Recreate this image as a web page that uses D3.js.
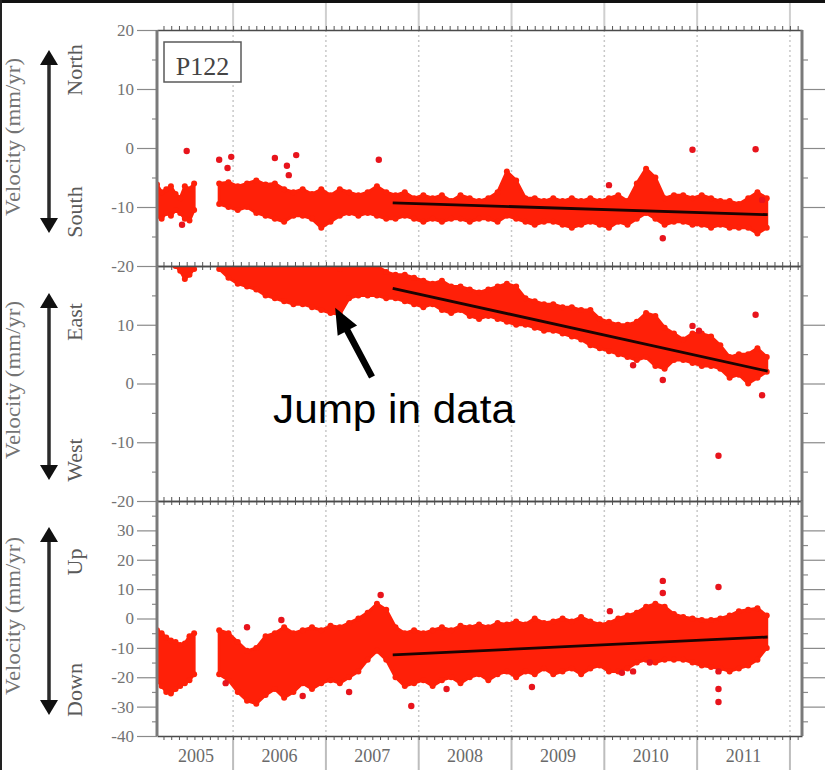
<!DOCTYPE html>
<html>
<head>
<meta charset="utf-8">
<script src="https://cdn.jsdelivr.net/npm/d3@7"></script>
<style>
  html, body { margin: 0; padding: 0; background: #fff; }
  svg { display: block; }
</style>
</head>
<body>
<svg id="chart" width="825" height="770"></svg>
<script>
// ---- Station P122 velocity time series (mm/yr), decimal years ----
// First occupation segment (weekly samples of the scatter envelope)
const years1 = [2005.18, 2005.23, 2005.28, 2005.33, 2005.38, 2005.43, 2005.48, 2005.53, 2005.58];
// Continuous record (sampled every 0.1 yr)
const years2 = [2005.85, 2005.95, 2006.05, 2006.15, 2006.25, 2006.35, 2006.45, 2006.55, 2006.65, 2006.75,
  2006.85, 2006.95, 2007.05, 2007.15, 2007.25, 2007.35, 2007.45, 2007.55, 2007.65, 2007.75,
  2007.85, 2007.95, 2008.05, 2008.15, 2008.25, 2008.35, 2008.45, 2008.55, 2008.65, 2008.75,
  2008.85, 2008.95, 2009.05, 2009.15, 2009.25, 2009.35, 2009.45, 2009.55, 2009.65, 2009.75,
  2009.85, 2009.95, 2010.05, 2010.15, 2010.25, 2010.35, 2010.45, 2010.55, 2010.65, 2010.75,
  2010.85, 2010.95, 2011.05, 2011.15, 2011.25, 2011.35, 2011.45, 2011.55, 2011.65, 2011.75];

// North component: upper / lower edge of the daily scatter
const northHi1 = [-6.2, -7.5, -7, -6.5, -7.8, -8.5, -6.5, -7, -6];
const northLo1 = [-11.5, -12, -11, -11.5, -10.5, -11, -12, -12.3, -10.5];
const northHi2 = [-6.0, -5.8, -6.5, -6.0, -5.5, -6.2, -6.0, -7.0, -7.5, -7.0,
  -7.8, -7.0, -8.0, -7.0, -7.5, -8.0, -7.5, -6.5, -7.5, -8.0,
  -7.5, -8.5, -8.0, -8.5, -8.0, -9.0, -8.0, -8.5, -9.0, -8.5,
  -7.5, -4.0, -5.5, -8.5, -8.5, -9.0, -8.5, -9.0, -8.5, -9.0,
  -8.5, -9.0, -8.5, -8.0, -9.0, -6.0, -3.5, -5.0, -8.5, -8.0,
  -8.0, -8.5, -8.0, -8.5, -9.0, -9.0, -9.5, -8.5, -7.5, -8.5];
const northLo2 = [-9.5, -10.0, -10.5, -10.0, -11.0, -11.5, -12.0, -12.5, -11.5, -11.5,
  -12.0, -13.5, -12.5, -11.5, -11.0, -11.5, -11.0, -11.5, -12.0, -12.0,
  -11.5, -12.0, -12.5, -12.0, -12.5, -12.0, -12.0, -12.5, -12.0, -12.0,
  -12.5, -11.5, -12.0, -12.5, -13.0, -12.5, -12.5, -13.0, -13.5, -13.0,
  -12.5, -13.0, -13.5, -12.5, -13.0, -12.0, -11.0, -12.0, -13.0, -12.5,
  -12.5, -13.0, -13.0, -13.5, -13.0, -13.5, -13.5, -13.5, -14.5, -13.5];
const northOutliers = [[2005.50, -0.5], [2005.45, -13], [2005.85, -2.0], [2005.98, -1.5], [2005.94, -3.4],
  [2006.45, -1.7], [2006.58, -3.0], [2006.60, -4.6], [2006.68, -1.2], [2007.57, -2.0],
  [2010.05, -6.3], [2010.63, -15.3], [2010.95, -0.3], [2011.63, -0.2], [2011.70, -8.8]];
const northTrend = [[2007.72, -9.3], [2011.76, -11.3]];

// East component (values above 20 run off the panel)
const eastHi1 = [24, 24, 24, 24, 24, 24, 24, 24, 24];
const eastLo1 = [21, 21, 21, 20.5, 20, 19.2, 17.8, 18.5, 19.5];
const eastHi2 = [22, 22, 22, 22, 22, 21.5, 21, 21, 20.5, 20.5,
  20.5, 20, 20, 19.5, 20.5, 20.5, 20.5, 20, 19, 18.5,
  18.5, 18, 17.5, 17, 17.5, 16.5, 16.5, 16, 15.5, 16,
  16.5, 17, 16.5, 14.5, 14, 13.5, 13.5, 13, 13, 12.5,
  12.5, 11, 10.5, 10, 10, 10.5, 12, 11.5, 9.5, 8.5,
  7.5, 8.5, 8.5, 8, 6.5, 4.5, 5, 5, 6, 4.5];
const eastLo2 = [19.5, 18, 17, 16.5, 16, 15, 14.5, 14, 13.5, 13.5,
  13, 12.5, 12, 11.8, 14.5, 15, 15, 15, 14.5, 14.5,
  14, 13.5, 13, 13.5, 12.5, 12, 12.5, 11.5, 11, 11.5,
  11, 10.5, 10, 10, 9.5, 9, 9, 8.5, 8, 7.5,
  6.5, 6, 5.5, 5, 4.5, 4, 4.5, 3, 2.5, 4,
  4, 3.5, 3, 3, 2.5, 1, 1.5, 0, 1, 2];
const eastOutliers = [[2011.63, 11.7], [2011.70, -2], [2010.63, 0.6], [2011.23, -12.3],
  [2010.31, 3.1], [2010.95, 9.8], [2011.02, 9.0]];
const eastTrend = [[2007.72, 16.2], [2011.76, 2.1]];

// Vertical component
const upHi1 = [-4, -5, -6.5, -7.5, -8, -9, -8.5, -6, -5];
const upLo1 = [-21, -23, -25, -25.5, -24, -23, -22, -21, -19];
const upHi2 = [-4, -5, -8, -11, -10, -6, -5, -3, -5, -4,
  -3, -4, -2.5, -3, -1.5, 0, 2, 5, 3, -3,
  -5, -4, -5, -4, -3, -4, -2.5, -3, -2, -3,
  -1.5, -2, -1, -2, 0, -1.5, -1, 0, -1, 0.5,
  -1, -2, -1.5, 0, 1, 2, 4, 5, 4, 1.5,
  0.5, 0, -0.5, -0.5, 0, 1, 2.5, 3, 3.5, 1];
const upLo2 = [-19, -21, -25, -28, -29, -26, -24, -27, -25, -22,
  -24, -22, -21, -22, -20, -18, -14, -11, -14, -20,
  -23, -22, -21, -23, -21, -20, -22, -20, -19, -21,
  -19, -18, -20, -18, -19, -17, -19, -18, -17, -19,
  -17, -16, -18, -18, -17, -15, -14, -15, -14, -14,
  -14, -15, -16, -16.5, -17, -18, -17, -16, -14, -10];
const upOutliers = [[2005.92, -22], [2006.15, -3], [2006.52, -0.5], [2007.59, 8], [2010.06, 2.5],
  [2010.63, 12.8], [2010.63, 8.7], [2011.23, 10.7], [2011.23, -24], [2011.23, -28.4], [2011.23, -18],
  [2010.49, -15], [2010.19, -18.5], [2010.31, -18], [2006.75, -26.4], [2007.25, -25],
  [2007.92, -29.8], [2008.30, -24], [2009.22, -23.3]];
const upTrend = [[2007.72, -12.4], [2011.76, -6.3]];

// Axis tick labels
const northTicks = [20, 10, 0, -10, -20];
const eastTicks = [10, 0, -10, -20];
const upTicks = [30, 20, 10, 0, -10, -20, -30, -40];
const yearLabels = ["2005", "2006", "2007", "2008", "2009", "2010", "2011"];
const yearCenters = [2005.6, 2006.5, 2007.5, 2008.5, 2009.5, 2010.5, 2011.5];
const yearBounds = [2006, 2007, 2008, 2009, 2010, 2011, 2012];

// ---- layout ----
const svg = d3.select("#chart");
const left = 157, right = 802;
const RED = "#ff2008";
const SERIF = "'Liberation Serif', 'Times New Roman', serif";

const x = d3.scaleLinear().domain([2005.18, 2012.13]).range([left, right]);

const panels = [
  { id: "n", top: 30, bottom: 266, domain: [-20, 20], ticks: northTicks, minorStep: 5,
    hi1: northHi1, lo1: northLo1, hi2: northHi2, lo2: northLo2, out: northOutliers, trend: northTrend,
    pos: "North", neg: "South", posY: 70, negY: 212, labY: 137, arrow: [50, 233] },
  { id: "e", top: 266, bottom: 501, domain: [-20, 20], ticks: eastTicks, minorStep: 5,
    hi1: eastHi1, lo1: eastLo1, hi2: eastHi2, lo2: eastLo2, out: eastOutliers, trend: eastTrend,
    pos: "East", neg: "West", posY: 322, negY: 460, labY: 380, arrow: [293, 480] },
  { id: "u", top: 501, bottom: 736, domain: [-40, 40], ticks: upTicks, minorStep: 5,
    hi1: upHi1, lo1: upLo1, hi2: upHi2, lo2: upLo2, out: upOutliers, trend: upTrend,
    pos: "Up", neg: "Down", posY: 562, negY: 690, labY: 616, arrow: [527, 715] }
];

const defs = svg.append("defs");

// screen border strips
svg.append("rect").attr("x", 0).attr("y", 0).attr("width", 825).attr("height", 3).attr("fill", "#111");
svg.append("rect").attr("x", 0).attr("y", 0).attr("width", 2).attr("height", 770).attr("fill", "#222");

// year grid lines: solid outside the frame, dotted inside
const gridG = svg.append("g");
yearBounds.forEach(yb => {
  const gx = x(yb);
  gridG.append("line").attr("x1", gx).attr("x2", gx).attr("y1", 3).attr("y2", 30)
    .attr("stroke", "#cfcfcf").attr("stroke-width", 2);
  gridG.append("line").attr("x1", gx).attr("x2", gx).attr("y1", 30).attr("y2", 736)
    .attr("stroke", "#c8c8c8").attr("stroke-width", 1.5).attr("stroke-dasharray", "2,3");
  gridG.append("line").attr("x1", gx).attr("x2", gx).attr("y1", 736).attr("y2", 770)
    .attr("stroke", "#bdbdbd").attr("stroke-width", 2);
});

// monthly ticks along the time axis
const monthTicks = [];
for (let yr = 2005; yr <= 2012; yr++) {
  for (let m = 0; m < 12; m++) {
    const t = yr + m / 12;
    if (t > 2005.2 && t < 2012.12) monthTicks.push(t);
  }
}

panels.forEach(p => {
  const y = d3.scaleLinear().domain(p.domain).range([p.bottom, p.top]);
  const g = svg.append("g");

  defs.append("clipPath").attr("id", "clip-" + p.id)
    .append("rect").attr("x", left).attr("y", p.top).attr("width", right - left).attr("height", p.bottom - p.top);

  const plot = g.append("g").attr("clip-path", "url(#clip-" + p.id + ")");

  // scatter bands
  const band = d3.area().x(d => x(d.t)).y0(d => y(d.lo)).y1(d => y(d.hi)).curve(d3.curveLinear);
  const seg1 = years1.map((t, i) => ({ t, hi: p.hi1[i], lo: p.lo1[i] }));
  const seg2 = years2.map((t, i) => ({ t, hi: p.hi2[i], lo: p.lo2[i] }));
  [seg1, seg2].forEach(seg => {
    plot.append("path").datum(seg).attr("d", band)
      .attr("fill", RED).attr("stroke", RED).attr("stroke-width", 3).attr("stroke-linejoin", "round");
    plot.selectAll(null).data(seg).join("circle")
      .attr("cx", d => x(d.t)).attr("cy", d => y(d.hi)).attr("r", 3).attr("fill", RED);
    plot.selectAll(null).data(seg).join("circle")
      .attr("cx", d => x(d.t)).attr("cy", d => y(d.lo)).attr("r", 3).attr("fill", RED);
  });
  plot.selectAll(null).data(p.out).join("circle")
    .attr("cx", d => x(d[0])).attr("cy", d => y(d[1])).attr("r", 3.2).attr("fill", "#e8141c");

  // linear trend
  plot.append("path").datum(p.trend)
    .attr("d", d3.line().x(d => x(d[0])).y(d => y(d[1])))
    .attr("stroke", "#1c0402").attr("stroke-width", 2.8).attr("fill", "none");

  // left axis
  const axL = g.append("g").attr("transform", `translate(${left},0)`)
    .call(d3.axisLeft(y).tickValues(p.ticks).tickSize(20).tickPadding(3).tickFormat(d => String(d)));
  axL.select(".domain").remove();
  axL.selectAll("line").attr("stroke", "#8a8a8a").attr("stroke-width", 1.2);
  axL.selectAll("text").attr("font-family", SERIF).attr("font-size", 17).attr("fill", "#737373");

  const minor = d3.range(p.domain[0], p.domain[1] + 0.01, p.minorStep).filter(v => v % 10 !== 0);
  const axLm = g.append("g").attr("transform", `translate(${left},0)`)
    .call(d3.axisLeft(y).tickValues(minor).tickSize(5).tickFormat(""));
  axLm.select(".domain").remove();
  axLm.selectAll("line").attr("stroke", "#8a8a8a").attr("stroke-width", 1.2);

  // right axis
  const majorR = d3.range(p.domain[0] + 10, p.domain[1] - 0.01, 10);
  const axR = g.append("g").attr("transform", `translate(${right},0)`)
    .call(d3.axisRight(y).tickValues(majorR).tickSize(23).tickFormat(""));
  axR.select(".domain").remove();
  axR.selectAll("line").attr("stroke", "#8a8a8a").attr("stroke-width", 1.2);
  const axRm = g.append("g").attr("transform", `translate(${right},0)`)
    .call(d3.axisRight(y).tickValues(minor).tickSize(6).tickFormat(""));
  axRm.select(".domain").remove();
  axRm.selectAll("line").attr("stroke", "#8a8a8a").attr("stroke-width", 1.2);

  // top / bottom frame with monthly ticks
  const axT = g.append("g").attr("transform", `translate(0,${p.top})`)
    .call(d3.axisTop(x).tickValues(monthTicks).tickSize(4).tickSizeOuter(0).tickFormat(""));
  axT.select(".domain").attr("stroke", "#4a4a4a").attr("stroke-width", 1.6);
  axT.selectAll("line").attr("stroke", "#555").attr("stroke-width", 1);
  const axB = g.append("g").attr("transform", `translate(0,${p.bottom})`)
    .call(d3.axisBottom(x).tickValues(monthTicks).tickSize(4).tickSizeOuter(0).tickFormat(""));
  axB.select(".domain").attr("stroke", "#4a4a4a").attr("stroke-width", 1.6);
  axB.selectAll("line").attr("stroke", "#555").attr("stroke-width", 1);

  // side frame lines
  g.append("line").attr("x1", left).attr("x2", left).attr("y1", p.top).attr("y2", p.bottom)
    .attr("stroke", "#7a7a7a").attr("stroke-width", 3);
  g.append("line").attr("x1", right).attr("x2", right).attr("y1", p.top).attr("y2", p.bottom)
    .attr("stroke", "#7a7a7a").attr("stroke-width", 3);

  // axis title and direction labels
  g.append("text").attr("transform", `translate(20,${p.labY}) rotate(-90)`)
    .attr("text-anchor", "middle").attr("font-family", SERIF).attr("font-size", 21)
    .attr("textLength", 158).attr("lengthAdjust", "spacingAndGlyphs")
    .attr("fill", "#747474").text("Velocity (mm/yr)");
  g.append("text").attr("transform", `translate(82,${p.posY}) rotate(-90)`)
    .attr("text-anchor", "middle").attr("font-family", SERIF).attr("font-size", 22)
    .attr("fill", "#5a5a5a").text(p.pos);
  g.append("text").attr("transform", `translate(82,${p.negY}) rotate(-90)`)
    .attr("text-anchor", "middle").attr("font-family", SERIF).attr("font-size", 22)
    .attr("fill", "#5a5a5a").text(p.neg);

  // double-headed direction arrow
  const ax = 49, [a0, a1] = p.arrow;
  g.append("line").attr("x1", ax).attr("x2", ax).attr("y1", a0 + 10).attr("y2", a1 - 10)
    .attr("stroke", "#2a2a2a").attr("stroke-width", 3.5);
  g.append("path").attr("d", `M${ax},${a0} L${ax - 9},${a0 + 15} L${ax + 9},${a0 + 15} Z`).attr("fill", "#111");
  g.append("path").attr("d", `M${ax},${a1} L${ax - 9},${a1 - 15} L${ax + 9},${a1 - 15} Z`).attr("fill", "#111");

  p.y = y;
});

// station label
svg.append("rect").attr("x", 164).attr("y", 42).attr("width", 77).attr("height", 40)
  .attr("fill", "#fff").attr("stroke", "#5a5a5a").attr("stroke-width", 1.5);
svg.append("text").attr("x", 202.5).attr("y", 75).attr("text-anchor", "middle")
  .attr("font-family", SERIF).attr("font-size", 26).attr("fill", "#444").text("P122");

// year labels along the bottom
svg.append("g").selectAll("text").data(yearLabels).join("text")
  .attr("x", (d, i) => x(yearCenters[i])).attr("y", 762).attr("text-anchor", "middle")
  .attr("font-family", SERIF).attr("font-size", 18).attr("fill", "#6a6a6a").text(d => d);

// annotation for the offset in the east record
const yE = panels[1].y;
const tip = [x(2007.10), yE(12.9)];
const tail = [372, 377];
const dx = tip[0] - tail[0], dy = tip[1] - tail[1];
const len = Math.hypot(dx, dy), ux = dx / len, uy = dy / len, nx = -uy, ny = ux;
const headL = 26, headW = 11, shaftW = 3.3;
const bx = tip[0] - ux * headL, by = tip[1] - uy * headL;
const arrowPts = [
  [tail[0] + nx * shaftW, tail[1] + ny * shaftW],
  [bx + nx * shaftW, by + ny * shaftW],
  [bx + nx * headW, by + ny * headW],
  tip,
  [bx - nx * headW, by - ny * headW],
  [bx - nx * shaftW, by - ny * shaftW],
  [tail[0] - nx * shaftW, tail[1] - ny * shaftW]
];
svg.append("path").attr("d", "M" + arrowPts.map(p => p.join(",")).join("L") + "Z").attr("fill", "#000");
svg.append("text").attr("x", 273).attr("y", 423)
  .attr("font-family", "'Liberation Sans', Arial, Helvetica, sans-serif").attr("font-size", 40)
  .attr("textLength", 242).attr("lengthAdjust", "spacingAndGlyphs")
  .attr("fill", "#000").text("Jump in data");
</script>
</body>
</html>
